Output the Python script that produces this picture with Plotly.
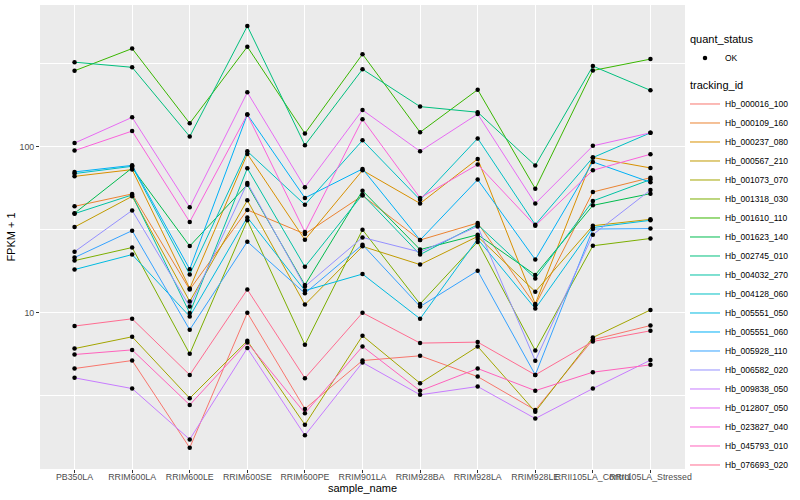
import plotly.graph_objects as go

sample_names = ["PB350LA", "RRIM600LA", "RRIM600LE", "RRIM600SE", "RRIM600PE", "RRIM901LA",
                "RRIM928BA", "RRIM928LA", "RRIM928LE", "RRII105LA_Control", "RRII105LA_Stressed"]

tracking_ids = ["Hb_000016_100", "Hb_000109_160", "Hb_000237_080", "Hb_000567_210", "Hb_001073_070",
                "Hb_001318_030", "Hb_001610_110", "Hb_001623_140", "Hb_002745_010", "Hb_004032_270",
                "Hb_004128_060", "Hb_005551_050", "Hb_005551_060", "Hb_005928_110", "Hb_006582_020",
                "Hb_009838_050", "Hb_012807_050", "Hb_023827_040", "Hb_045793_010", "Hb_076693_020"]

# FPKM + 1 per sample
hb_000016_100 = [4.62, 5.16, 1.54, 10.0, 2.64, 5.16, 5.51, 4.13, 2.60, 6.88, 8.38]
hb_000109_160 = [43.7, 51.9, 13.8, 41.6, 29.8, 50.7, 27.4, 34.7, 11.1, 53.3, 65.0]
hb_000237_080 = [66.2, 72.7, 14.0, 90.4, 27.5, 72.0, 45.5, 84.3, 11.3, 85.9, 74.4]
hb_000567_210 = [32.8, 50.2, 11.7, 47.5, 11.2, 25.1, 19.5, 28.8, 13.4, 33.4, 36.5]
hb_001073_070 = [6.09, 7.17, 3.06, 6.78, 2.12, 7.27, 3.77, 6.27, 2.54, 7.10, 10.4]
hb_001318_030 = [20.6, 24.7, 5.66, 36.0, 6.42, 31.6, 11.3, 26.7, 5.93, 25.3, 28.0]
hb_001610_110 = [286, 389, 138, 399, 120, 360, 122, 220, 55.8, 287, 336]
hb_001623_140 = [39.7, 74.4, 25.2, 59.0, 14.7, 54.3, 24.0, 29.5, 16.9, 44.3, 52.1]
hb_002745_010 = [322, 300, 115, 531, 102, 292, 174, 161, 77.0, 305, 218]
hb_004032_270 = [39.5, 51.2, 9.96, 74.0, 18.9, 51.4, 22.4, 33.9, 16.1, 47.1, 63.3]
hb_004128_060 = [68.8, 76.1, 17.0, 93.7, 44.7, 109, 47.9, 112, 33.9, 85.9, 121]
hb_005551_050 = [18.2, 22.4, 9.5, 37.5, 13.6, 17.1, 9.2, 27.8, 10.6, 32.6, 36.0]
hb_005551_060 = [70.4, 77.1, 18.3, 156, 49.1, 73.4, 27.4, 63.3, 20.9, 80.9, 61.0]
hb_005928_110 = [21.5, 31.2, 7.9, 26.8, 13.1, 25.7, 10.9, 17.9, 4.23, 31.9, 32.1]
hb_006582_020 = [23.3, 41.3, 10.9, 60.4, 14.4, 28.4, 23.2, 33.1, 5.14, 29.5, 54.8]
hb_009838_050 = [4.06, 3.50, 1.73, 6.13, 1.83, 5.02, 3.21, 3.60, 2.31, 3.50, 5.19]
hb_012807_050 = [105, 150, 43.1, 212, 56.9, 166, 93.7, 157, 45.4, 101, 121]
hb_023827_040 = [94.6, 124, 35.2, 156, 30.6, 146, 49.1, 78.0, 33.4, 72.0, 89.9]
hb_045793_010 = [5.61, 5.98, 2.79, 6.62, 2.49, 6.27, 3.39, 4.62, 3.40, 4.39, 4.86]
hb_076693_020 = [8.32, 9.2, 4.23, 13.8, 4.04, 10.0, 6.57, 6.66, 4.23, 6.72, 7.79]

series_values = [hb_000016_100, hb_000109_160, hb_000237_080, hb_000567_210, hb_001073_070,
                 hb_001318_030, hb_001610_110, hb_001623_140, hb_002745_010, hb_004032_270,
                 hb_004128_060, hb_005551_050, hb_005551_060, hb_005928_110, hb_006582_020,
                 hb_009838_050, hb_012807_050, hb_023827_040, hb_045793_010, hb_076693_020]

y_tick_vals = [10, 100]
y_tick_text = ["10", "100"]
y_minor_vals = [10 ** 0.5, 10 ** 1.5, 10 ** 2.5]

colors = ["#F8766D", "#EA8331", "#D89000", "#C09B00", "#A3A500", "#7CAE00", "#39B600", "#00BB4E",
          "#00BF7D", "#00C1A3", "#00BFC4", "#00BAE0", "#00B0F6", "#35A2FF", "#9590FF", "#C77CFF",
          "#E76BF3", "#FA62DB", "#FF62BC", "#FF6C91"]

FONT = "Liberation Sans, Arial, Helvetica, sans-serif"

fig = go.Figure()
for i, (tid, vals) in enumerate(zip(tracking_ids, series_values)):
    kw = {}
    if i == 0:
        kw["legendgrouptitle"] = dict(text="tracking_id")
    fig.add_trace(go.Scatter(
        x=sample_names, y=vals, mode="lines", name=tid,
        line=dict(color=colors[i], width=1),
        legendgroup="tid", legendrank=10 + i, **kw))

all_x, all_y = [], []
for vals in series_values:
    all_x.extend(sample_names)
    all_y.extend(vals)
fig.add_trace(go.Scatter(
    x=all_x, y=all_y, mode="markers", name="OK",
    marker=dict(color="black", size=4.5),
    legendgroup="qs", legendgrouptitle=dict(text="quant_status"), legendrank=1))

fig.update_layout(
    width=800, height=500,
    margin=dict(l=40, r=115, t=5, b=31, autoexpand=False),
    paper_bgcolor="white", plot_bgcolor="#EBEBEB",
    font=dict(family=FONT, size=11, color="black"),
    showlegend=True,
    legend=dict(
        x=1.0, xanchor="left", y=0.958, yanchor="top",
        traceorder="grouped", tracegroupgap=8,
        font=dict(size=8.5, color="black", family=FONT),
        grouptitlefont=dict(size=11, color="black", family=FONT),
        bgcolor="rgba(0,0,0,0)", itemwidth=30,
    ),
    xaxis=dict(
        type="category", categoryorder="array", categoryarray=sample_names,
        range=[-0.6, len(sample_names) - 0.4],
        showgrid=True, gridcolor="white", gridwidth=1.1,
        ticks="outside", ticklen=3, tickcolor="#333333", tickwidth=1,
        tickangle=0, tickfont=dict(size=8.8, color="#4D4D4D"),
        ticklabelstandoff=-4,
        title=dict(text="sample_name", font=dict(size=11), standoff=0),
        zeroline=False, showline=False,
    ),
    yaxis=dict(
        type="log", range=[0.06, 2.852],
        tickmode="array", tickvals=y_tick_vals, ticktext=y_tick_text,
        showgrid=True, gridcolor="white", gridwidth=1.1,
        ticks="outside", ticklen=3, tickcolor="#333333", tickwidth=1,
        tickfont=dict(size=8.8, color="#4D4D4D"),
        minor=dict(tickmode="array", tickvals=y_minor_vals, showgrid=True,
                   gridcolor="white", gridwidth=0.55, ticks=""),
        title=dict(text="FPKM + 1", font=dict(size=11), standoff=1),
        zeroline=False, showline=False,
    ),
)

fig.write_html("out.html", config={"displayModeBar": False},
               post_script="document.body.style.margin='0';")
